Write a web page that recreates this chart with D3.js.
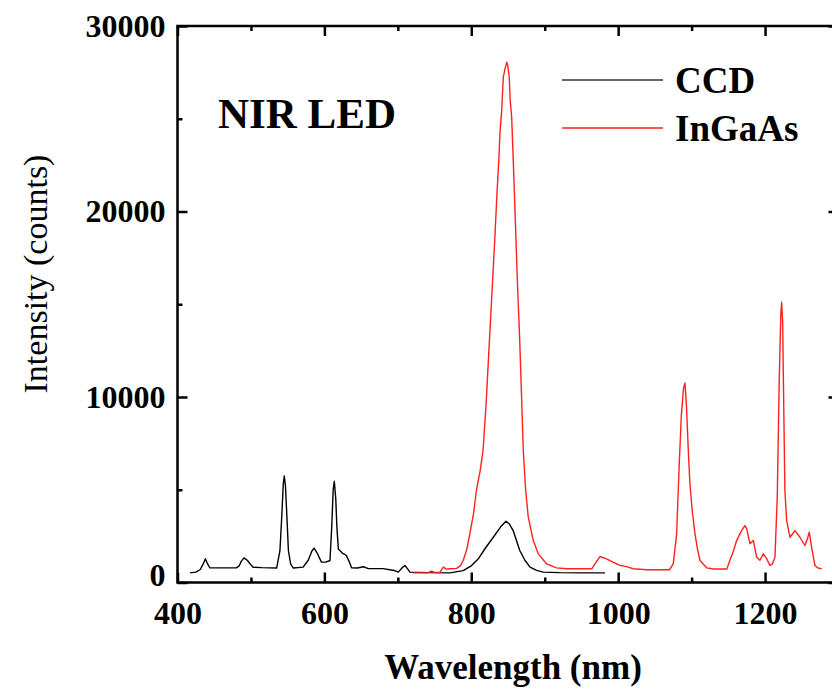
<!DOCTYPE html>
<html>
<head>
<meta charset="utf-8">
<script src="https://cdn.jsdelivr.net/npm/d3@7"></script>
<style>
  html, body { margin: 0; padding: 0; background: #fff; }
  svg { display: block; }
</style>
</head>
<body>
<svg id="chart" width="832" height="691"></svg>
<script>
// ---------------- data ----------------
const xTickValues = [400, 600, 800, 1000, 1200];
const xMinorTickValues = [500, 700, 900, 1100, 1300];
const yTickValues = [0, 10000, 20000, 30000];
const yMinorTickValues = [5000, 15000, 25000];

const seriesNames = ["CCD", "InGaAs"];
const seriesColors = ["#000000", "#ff2020"];

const ccdWavelength = [417, 425, 431, 435, 438, 441, 444, 460, 480, 484, 487, 490.5, 495, 499, 503, 515, 535, 539.5, 542, 544, 545.4, 547, 549, 551, 554, 557.7, 571, 578, 583, 586, 590, 596, 602, 607.6, 610, 612, 613.5, 615.5, 617, 619, 624, 630, 634, 637, 645, 653, 660, 680, 695, 700.6, 706, 709.7, 713, 716.5, 740, 771, 789, 800, 810, 820, 830, 840, 847.2, 852, 857, 866, 873, 880, 889, 898, 920, 950, 982];
const ccdIntensity = [520, 560, 700, 1000, 1280, 1000, 790, 790, 790, 900, 1150, 1330, 1200, 1000, 825, 800, 780, 1725, 3600, 5300, 5750, 5200, 3500, 1725, 1000, 780, 830, 1200, 1700, 1850, 1600, 1100, 1100, 1185, 3000, 5000, 5460, 4500, 3000, 1800, 1600, 1455, 1100, 790, 780, 850, 750, 750, 650, 560, 800, 915, 750, 560, 530, 520, 640, 900, 1300, 1900, 2440, 3000, 3300, 3150, 2800, 1725, 1200, 825, 650, 560, 530, 520, 520];

const ingaasWavelength = [721, 740, 746, 750, 757, 762, 766, 771, 780, 785, 789, 794, 798, 803, 807, 812, 816, 820, 824, 828, 832, 835, 837.7, 839, 841.4, 843.6, 846, 848.3, 849.5, 851.7, 853, 855, 857, 860, 863, 866, 868.5, 870.8, 874, 877.6, 884.4, 891.2, 902.7, 916, 930, 964, 970, 975.2, 984, 993, 1002.4, 1010, 1013.7, 1020.5, 1039, 1070, 1075, 1079.6, 1083, 1086, 1089, 1091, 1093, 1095.5, 1097.7, 1101, 1104.6, 1108, 1111.4, 1120.5, 1130, 1148, 1152, 1157, 1161.3, 1168, 1172.6, 1175, 1179.5, 1184, 1188.6, 1193, 1197.6, 1202, 1206.7, 1210, 1213.5, 1216.6, 1219.3, 1221.5, 1222.6, 1224, 1224.8, 1227, 1229.4, 1233.9, 1237, 1240.7, 1247.5, 1254.3, 1258, 1260.2, 1263.4, 1268, 1272, 1277];
const ingaasIntensity = [520, 520, 610, 540, 540, 830, 720, 740, 760, 900, 1185, 1800, 2620, 3700, 4960, 6000, 7115, 9500, 12500, 15500, 18500, 21000, 22930, 24200, 25440, 27240, 27700, 28050, 27900, 27240, 26000, 25080, 22930, 19500, 16000, 13000, 10000, 7115, 5000, 3520, 2260, 1545, 1000, 790, 740, 740, 1100, 1400, 1275, 1100, 920, 870, 825, 740, 690, 690, 1000, 2620, 6215, 9000, 10500, 10750, 9500, 7115, 5320, 3800, 2620, 1800, 1185, 790, 730, 730, 1185, 1700, 2260, 2800, 3070, 2890, 2085, 2260, 1365, 1200, 1545, 1300, 920, 1000, 1365, 4600, 10890, 14500, 15110, 14000, 11430, 4960, 3340, 2440, 2600, 2800, 2440, 1995, 2400, 2710, 1900, 915, 780, 740];

const xLabel = "Wavelength (nm)";
const yLabel = "Intensity (counts)";
const panelLabel = "NIR LED";

// ---------------- layout ----------------
const plotLeft = 177.5, plotRight = 838.5, plotTop = 26, plotBottom = 582.5;
const FONT = "Liberation Serif";
const svg = d3.select("#chart");

const x = d3.scaleLinear().domain([400, 1300]).range([plotLeft, plotRight]);
const y = d3.scaleLinear().domain([0, 30000]).range([plotBottom, plotTop]);

function styleAxis(g) {
  g.select(".domain").remove();
  g.selectAll(".tick line").attr("stroke", "#000").attr("stroke-width", 2.5);
  g.selectAll(".tick text")
    .attr("fill", "#000")
    .attr("font-family", FONT)
    .attr("font-weight", "bold")
    .attr("font-size", 32);
}

// bottom axis (major with labels)
svg.append("g").attr("transform", `translate(0,${plotBottom})`)
  .call(d3.axisBottom(x).tickValues(xTickValues).tickSize(-10).tickSizeOuter(0).tickPadding(19).tickFormat(d3.format("d")))
  .call(styleAxis);
svg.append("g").attr("transform", `translate(0,${plotBottom})`)
  .call(d3.axisBottom(x).tickValues(xMinorTickValues).tickSize(-5).tickSizeOuter(0).tickFormat(""))
  .call(styleAxis);
// top axis
svg.append("g").attr("transform", `translate(0,${plotTop})`)
  .call(d3.axisTop(x).tickValues(xTickValues).tickSize(-10).tickSizeOuter(0).tickFormat(""))
  .call(styleAxis);
svg.append("g").attr("transform", `translate(0,${plotTop})`)
  .call(d3.axisTop(x).tickValues(xMinorTickValues).tickSize(-5).tickSizeOuter(0).tickFormat(""))
  .call(styleAxis);
// left axis
const yAxisG = svg.append("g").attr("transform", `translate(${plotLeft},0)`)
  .call(d3.axisLeft(y).tickValues(yTickValues).tickSize(-10).tickSizeOuter(0).tickPadding(12).tickFormat(d3.format("d")))
  .call(styleAxis);
// lift the "0" label slightly so it does not collide with "400"
yAxisG.selectAll(".tick text").filter(d => d === 0).attr("dy", "0.1em");
svg.append("g").attr("transform", `translate(${plotLeft},0)`)
  .call(d3.axisLeft(y).tickValues(yMinorTickValues).tickSize(-5).tickSizeOuter(0).tickFormat(""))
  .call(styleAxis);
// right axis
svg.append("g").attr("transform", `translate(${plotRight},0)`)
  .call(d3.axisRight(y).tickValues(yTickValues).tickSize(-10).tickSizeOuter(0).tickFormat(""))
  .call(styleAxis);
svg.append("g").attr("transform", `translate(${plotRight},0)`)
  .call(d3.axisRight(y).tickValues(yMinorTickValues).tickSize(-5).tickSizeOuter(0).tickFormat(""))
  .call(styleAxis);

// frame
svg.append("rect")
  .attr("x", plotLeft).attr("y", plotTop)
  .attr("width", plotRight - plotLeft).attr("height", plotBottom - plotTop)
  .attr("fill", "none").attr("stroke", "#000").attr("stroke-width", 2.5);

// ---------------- series ----------------
const line = d3.line().x(d => x(d[0])).y(d => y(d[1]));
const series = [
  d3.zip(ccdWavelength, ccdIntensity),
  d3.zip(ingaasWavelength, ingaasIntensity)
];
series.forEach((pts, i) => {
  svg.append("path").datum(pts)
    .attr("d", line)
    .attr("fill", "none")
    .attr("stroke", seriesColors[i])
    .attr("stroke-width", 1.4)
    .attr("stroke-linejoin", "round");
});

// ---------------- legend ----------------
const legendY = [80, 128];
seriesNames.forEach((name, i) => {
  svg.append("line")
    .attr("x1", 562).attr("x2", 663)
    .attr("y1", legendY[i]).attr("y2", legendY[i])
    .attr("stroke", i === 0 ? "#333" : seriesColors[i]).attr("stroke-width", 1.4);
  svg.append("text")
    .attr("x", 675).attr("y", legendY[i] + 13)
    .attr("font-family", FONT).attr("font-weight", "bold").attr("font-size", 37)
    .attr("fill", "#000")
    .text(name);
});

// panel label
svg.append("text")
  .attr("x", 218).attr("y", 128)
  .attr("font-family", FONT).attr("font-weight", "bold").attr("font-size", 43)
  .text(panelLabel);

// axis titles
svg.append("text")
  .attr("x", 513).attr("y", 679)
  .attr("text-anchor", "middle")
  .attr("font-family", FONT).attr("font-weight", "bold").attr("font-size", 35)
  .text(xLabel);

svg.append("text")
  .attr("transform", "translate(47,274) rotate(-90)")
  .attr("text-anchor", "middle")
  .attr("font-family", FONT).attr("font-size", 34)
  .text(yLabel);
</script>
</body>
</html>
